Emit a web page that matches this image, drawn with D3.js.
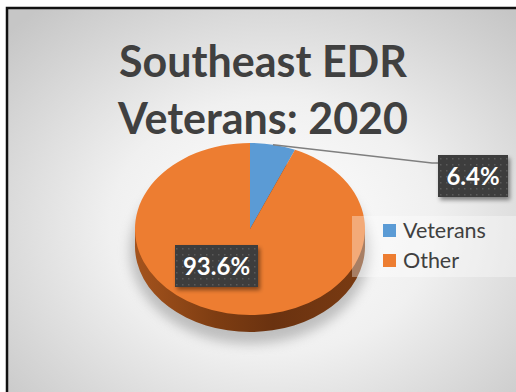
<!DOCTYPE html>
<html>
<head>
<meta charset="utf-8">
<script src="https://cdn.jsdelivr.net/npm/d3@7"></script>
<style>
  body { margin: 0; background: #fff; }
  svg { display: block; }
</style>
</head>
<body>
<div class="container"></div>
<script>
// chart data
let categories = ['Veterans', 'Other']
let values = [6.4, 93.6]
let labels = ['6.4%', '93.6%']
let colors = ['#5B9BD5', '#ED7D31']
let titleLines = ['Southeast EDR', 'Veterans: 2020']

let width = 516, height = 392
let cx = 250, cy = 229, rx = 115, ry = 86, depth = 17

let svg = d3.select('.container')
    .append('svg')
    .attr('width', width)
    .attr('height', height)

let defs = svg.append('defs')

let bg = defs.append('radialGradient')
    .attr('id', 'bg')
    .attr('cx', '50%').attr('cy', '52%').attr('r', '68%')
bg.append('stop').attr('offset', '0%').attr('stop-color', '#ffffff')
bg.append('stop').attr('offset', '45%').attr('stop-color', '#f0f0f0')
bg.append('stop').attr('offset', '100%').attr('stop-color', '#c6c6c6')

let side = defs.append('linearGradient')
    .attr('id', 'side')
    .attr('x1', '0%').attr('x2', '100%')
side.append('stop').attr('offset', '0%').attr('stop-color', '#a4531d')
side.append('stop').attr('offset', '35%').attr('stop-color', '#7e3d12')
side.append('stop').attr('offset', '60%').attr('stop-color', '#6a3210')
side.append('stop').attr('offset', '100%').attr('stop-color', '#7a3b12')

let dots = defs.append('pattern')
    .attr('id', 'dots')
    .attr('width', 6).attr('height', 6)
    .attr('patternUnits', 'userSpaceOnUse')
dots.append('rect').attr('width', 6).attr('height', 6).attr('fill', '#3d3d3d')
dots.append('rect').attr('x', 2).attr('y', 2).attr('width', 1.5).attr('height', 1.5).attr('fill', '#5a5a5a')

let blur = defs.append('filter').attr('id', 'blur')
    .attr('x', '-30%').attr('y', '-30%').attr('width', '160%').attr('height', '160%')
blur.append('feGaussianBlur').attr('stdDeviation', 6)

let shadow = defs.append('filter').attr('id', 'shadow')
    .attr('x', '-20%').attr('y', '-20%').attr('width', '150%').attr('height', '160%')
shadow.append('feDropShadow')
    .attr('dx', 2).attr('dy', 3).attr('stdDeviation', 2)
    .attr('flood-color', '#000').attr('flood-opacity', 0.45)

// chart area
svg.append('rect')
    .attr('x', 7).attr('y', 8)
    .attr('width', 530).attr('height', 420)
    .attr('fill', 'url(#bg)')
    .attr('stroke', '#111')
    .attr('stroke-width', 2.5)

svg.append('g')
    .selectAll('text')
    .data(titleLines)
    .enter().append('text')
    .attr('x', 263)
    .attr('y', (d, i) => 77 + i * 57)
    .attr('text-anchor', 'middle')
    .style('font-family', 'Lato, "Open Sans", sans-serif')
    .style('font-weight', 'bold')
    .style('font-size', '43px')
    .style('fill', '#404040')
    .text(d => d)

// pie
let pie = d3.pie().sort(null).value(d => d)
let slices = pie(values)
let arc = d3.arc().innerRadius(0).outerRadius(rx)
let scaleY = ry / rx

// soft shadow under the pie
svg.append('ellipse')
    .attr('cx', cx).attr('cy', cy + depth + 5)
    .attr('rx', rx + 5).attr('ry', ry + 7)
    .attr('fill', '#8a8a8a')
    .attr('opacity', 0.5)
    .attr('filter', 'url(#blur)')

// side wall
let wall = svg.append('g')
wall.append('rect')
    .attr('x', cx - rx).attr('y', cy)
    .attr('width', rx * 2).attr('height', depth)
    .attr('fill', 'url(#side)')
wall.append('path')
    .attr('transform', `translate(${cx},${cy + depth}) scale(1,${scaleY})`)
    .attr('d', arc({startAngle: 0, endAngle: Math.PI * 2}))
    .attr('fill', 'url(#side)')

// top surface
let pieTop = svg.append('g')
    .attr('transform', `translate(${cx},${cy}) scale(1,${scaleY})`)
pieTop.selectAll('path')
    .data(slices)
    .enter().append('path')
    .attr('d', arc)
    .attr('fill', (d, i) => colors[i])

// leader line for the small slice
let mid = (slices[0].startAngle + slices[0].endAngle) / 2
let lx = cx + rx * Math.sin(mid)
let ly = cy - ry * Math.cos(mid)
svg.append('polyline')
    .attr('points', [[lx, ly], [432, 163], [438, 163]].map(p => p.join(',')).join(' '))
    .attr('fill', 'none')
    .attr('stroke', '#7f7f7f')
    .attr('stroke-width', 1.5)

// data labels
let labelBoxes = [
    {x: 438, y: 155, w: 70, h: 42},
    {x: 175, y: 245, w: 83, h: 42}
]
let lab = svg.append('g')
    .selectAll('g')
    .data(labels)
    .enter().append('g')
lab.append('rect')
    .attr('x', (d, i) => labelBoxes[i].x)
    .attr('y', (d, i) => labelBoxes[i].y)
    .attr('width', (d, i) => labelBoxes[i].w)
    .attr('height', (d, i) => labelBoxes[i].h)
    .attr('fill', 'url(#dots)')
    .attr('filter', 'url(#shadow)')
lab.append('text')
    .attr('x', (d, i) => labelBoxes[i].x + labelBoxes[i].w / 2)
    .attr('y', (d, i) => labelBoxes[i].y + labelBoxes[i].h / 2 + 8.5)
    .attr('text-anchor', 'middle')
    .style('font-family', 'Lato, "Open Sans", sans-serif')
    .style('font-weight', 'bold')
    .style('font-size', '24px')
    .style('fill', '#fff')
    .text(d => d)

// legend
let legend = svg.append('g')
legend.append('rect')
    .attr('x', 352).attr('y', 216)
    .attr('width', 170).attr('height', 61)
    .attr('fill', '#fff')
    .attr('opacity', 0.35)
let items = legend.selectAll('g')
    .data(categories)
    .enter().append('g')
    .attr('transform', (d, i) => `translate(383,${224 + i * 30})`)
items.append('rect')
    .attr('width', 13).attr('height', 13)
    .attr('fill', (d, i) => colors[i])
items.append('text')
    .attr('x', 20).attr('y', 14)
    .style('font-family', 'Lato, "Open Sans", sans-serif')
    .style('font-size', '21.5px')
    .style('fill', '#404040')
    .text(d => d)
</script>
</body>
</html>
